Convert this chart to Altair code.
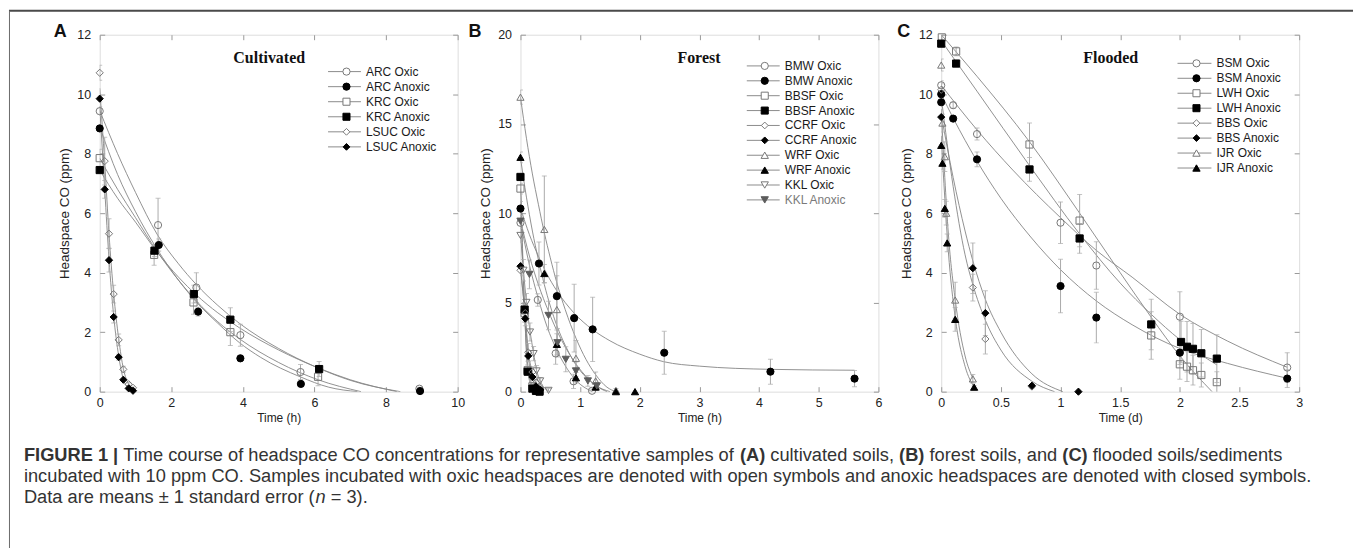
import altair as alt
import pandas as pd

FONT = "Liberation Sans"
SERIF = "Liberation Serif"

# ================= Panel A : Cultivated (time, h) =================
A_ARC_OX_T = [0, 1.63, 2.70, 3.93, 5.61, 8.93]
A_ARC_OX_Y = [9.43, 5.60, 3.50, 1.90, 0.66, 0.10]
A_ARC_OX_SE = [0.15, 0.90, 0.50, 0.37, 0.25, 0.05]
A_ARC_OX_CT = [0, 0.5, 1, 1.6, 2.2, 2.7, 3.3, 3.9, 5, 6, 7, 8.4]
A_ARC_OX_CY = [9.45, 8.0, 6.7, 5.3, 4.3, 3.6, 2.9, 2.3, 1.45, 0.85, 0.38, 0.0]

A_ARC_AN_T = [0, 1.65, 2.75, 3.93, 5.62, 8.95]
A_ARC_AN_Y = [8.85, 4.93, 2.69, 1.12, 0.26, 0.02]
A_ARC_AN_SE = [0.1, 0.2, 0.15, 0.1, 0.08, 0.0]
A_ARC_AN_CT = [0, 0.5, 1, 1.6, 2.2, 2.75, 3.3, 3.9, 4.5, 5.6, 6.4, 7.2]
A_ARC_AN_CY = [8.9, 7.3, 6.05, 4.8, 3.75, 2.95, 2.3, 1.65, 1.15, 0.5, 0.15, 0.0]

A_KRC_OX_T = [0, 1.52, 2.62, 3.65, 6.10]
A_KRC_OX_Y = [7.85, 4.60, 3.00, 2.00, 0.50]
A_KRC_OX_SE = [0.3, 0.35, 0.4, 0.45, 0.3]
A_KRC_OX_CT = [0, 0.5, 1, 1.6, 2.2, 2.7, 3.3, 3.9, 5, 6.1, 7.3]
A_KRC_OX_CY = [7.85, 6.8, 5.85, 4.72, 3.75, 3.05, 2.35, 1.78, 0.98, 0.4, 0.0]

A_KRC_AN_T = [0, 1.53, 2.63, 3.65, 6.13]
A_KRC_AN_Y = [7.45, 4.74, 3.28, 2.42, 0.76]
A_KRC_AN_SE = [0.1, 0.2, 0.3, 0.4, 0.25]
A_KRC_AN_CT = [0, 0.5, 1, 1.6, 2.2, 2.7, 3.3, 3.9, 5, 6.1, 7, 8.3]
A_KRC_AN_CY = [7.45, 6.5, 5.7, 4.7, 3.85, 3.25, 2.65, 2.15, 1.4, 0.8, 0.4, 0.0]

A_LSUC_T = [0, 0.14, 0.26, 0.39, 0.53, 0.66, 0.81, 0.93]
A_LSUC_OX_Y = [10.72, 7.75, 5.31, 3.28, 1.74, 0.75, 0.25, 0.13]
A_LSUC_OX_SE = [0.25, 0.8, 0.5, 0.3, 0.2, 0.1, 0.05, 0.03]
A_LSUC_OX_CY = [10.2, 7.7, 5.3, 3.3, 1.78, 0.78, 0.25, 0.1]
A_LSUC_AN_Y = [9.85, 6.80, 4.42, 2.51, 1.16, 0.40, 0.11, 0.03]
A_LSUC_AN_SE = [0.1, 0.3, 0.4, 0.2, 0.1, 0.05, 0.03, 0.0]
A_LSUC_AN_CY = [9.6, 6.8, 4.45, 2.55, 1.2, 0.42, 0.1, 0.02]

# ================= Panel B : Forest (time, h) =================
B_BMW_OX_T = [0, 0.29, 0.59, 0.89, 1.20]
B_BMW_OX_Y = [9.46, 5.14, 2.14, 0.58, 0.05]
B_BMW_OX_SE = [0.3, 0.35, 0.6, 0.4, 0.1]
B_BMW_OX_CT = [0, 0.15, 0.3, 0.45, 0.6, 0.9, 1.2]
B_BMW_OX_CY = [9.5, 7.1, 5.2, 3.6, 2.4, 0.75, 0.0]

B_BMW_AN_T = [0, 0.31, 0.61, 0.90, 1.21, 2.41, 4.19, 5.60]
B_BMW_AN_Y = [10.26, 7.18, 5.35, 4.12, 3.49, 2.18, 1.12, 0.73]
B_BMW_AN_SE = [0.4, 1.2, 1.9, 1.9, 1.8, 1.2, 0.7, 0.45]
B_BMW_AN_CT = [0, 0.15, 0.3, 0.45, 0.6, 0.9, 1.2, 1.5, 2.0, 2.4, 3.0, 4.2, 5.6]
B_BMW_AN_CY = [10.3, 8.8, 7.6, 6.55, 5.7, 4.4, 3.5, 2.85, 2.1, 1.68, 1.43, 1.25, 1.2]

B_BBSF_T = [0, 0.07, 0.12, 0.20, 0.26, 0.32]
B_BBSF_OX_Y = [11.38, 4.40, 1.20, 0.30, 0.10, 0.05]
B_BBSF_OX_SE = [0.3, 0.5, 0.3, 0.1, 0.05, 0.03]
B_BBSF_OX_CY = [11.38, 4.4, 1.5, 0.35, 0.1, 0.0]
B_BBSF_AN_Y = [12.03, 4.60, 1.12, 0.17, 0.04, 0.0]
B_BBSF_AN_SE = [0.2, 0.4, 0.2, 0.05, 0.0, 0.0]
B_BBSF_AN_CY = [12.03, 4.6, 1.2, 0.2, 0.04, 0.0]

B_CCRF_T = [0, 0.08, 0.13, 0.20, 0.26, 0.33]
B_CCRF_OX_Y = [6.80, 4.40, 2.20, 1.10, 0.50, 0.20]
B_CCRF_OX_SE = [0.3, 0.5, 0.5, 0.3, 0.2, 0.1]
B_CCRF_OX_CY = [6.8, 4.3, 2.3, 1.1, 0.5, 0.2]
B_CCRF_AN_Y = [7.03, 4.09, 2.00, 0.82, 0.30, 0.10]
B_CCRF_AN_SE = [0.2, 0.4, 0.3, 0.2, 0.1, 0.05]
B_CCRF_AN_CY = [7.03, 4.09, 2.0, 0.85, 0.3, 0.1]

B_WRF_OX_T = [0, 0.40, 0.61, 0.93, 1.26, 1.60]
B_WRF_OX_Y = [16.50, 9.09, 4.60, 1.87, 0.60, 0.07]
B_WRF_OX_SE = [0.4, 3.0, 1.9, 1.0, 0.5, 0.1]
B_WRF_OX_CT = [0, 0.1, 0.2, 0.3, 0.4, 0.5, 0.61, 0.75, 0.93, 1.1, 1.26, 1.45, 1.6]
B_WRF_OX_CY = [16.5, 14.2, 12.2, 10.5, 8.9, 7.5, 6.1, 4.6, 3.0, 1.8, 0.95, 0.25, 0.0]

B_WRF_AN_T = [0, 0.40, 0.61, 0.93, 1.26, 1.60, 1.92]
B_WRF_AN_Y = [13.13, 6.62, 2.65, 0.78, 0.26, 0.0, 0.0]
B_WRF_AN_SE = [0.3, 0.5, 0.6, 0.3, 0.2, 0.05, 0.0]
B_WRF_AN_CT = [0, 0.1, 0.2, 0.3, 0.4, 0.5, 0.61, 0.75, 0.93, 1.1, 1.26, 1.5]
B_WRF_AN_CY = [13.1, 10.9, 9.0, 7.4, 6.0, 4.8, 3.7, 2.6, 1.5, 0.8, 0.35, 0.0]

B_KKL_OX_T = [0, 0.05, 0.10, 0.16, 0.22, 0.27, 0.33, 0.47]
B_KKL_OX_Y = [8.75, 6.80, 5.00, 3.34, 2.13, 1.16, 0.60, 0.07]
B_KKL_OX_SE = [0.4, 0.6, 0.5, 0.5, 0.4, 0.3, 0.2, 0.1]
B_KKL_OX_CY = [8.75, 6.8, 5.0, 3.4, 2.15, 1.2, 0.6, 0.05]

B_KKL_AN_T = [0, 0.15, 0.47, 0.62, 0.76, 0.93, 1.13, 1.28]
B_KKL_AN_Y = [9.55, 6.57, 4.27, 2.74, 1.81, 1.16, 0.60, 0.32]
B_KKL_AN_SE = [0.3, 0.8, 0.8, 0.8, 0.7, 0.5, 0.3, 0.2]
B_KKL_AN_CT = [0, 0.15, 0.3, 0.47, 0.62, 0.76, 0.93, 1.13, 1.28, 1.45]
B_KKL_AN_CY = [9.6, 7.6, 6.0, 4.5, 3.35, 2.45, 1.55, 0.75, 0.3, 0.0]

# ================= Panel C : Flooded (time, d) =================
C_BSM_OX_T = [0, 0.10, 0.30, 1.00, 1.30, 2.00, 2.90]
C_BSM_OX_Y = [10.30, 9.63, 8.66, 5.68, 4.24, 2.52, 0.81]
C_BSM_OX_SE = [0.15, 0.1, 0.2, 0.7, 0.8, 0.84, 0.5]
C_BSM_OX_CT = [0, 0.3, 0.6, 1.0, 1.3, 1.6, 2.0, 2.4, 2.9]
C_BSM_OX_CY = [10.3, 8.8, 7.45, 5.85, 4.75, 3.85, 2.6, 1.7, 0.82]

C_BSM_AN_T = [0, 0, 0.10, 0.30, 1.00, 1.30, 2.00, 2.90]
C_BSM_AN_Y = [10.00, 9.73, 9.18, 7.81, 3.55, 2.49, 1.31, 0.44]
C_BSM_AN_SE = [0.1, 0.1, 0.1, 0.25, 0.9, 0.85, 0.4, 0.3]
C_BSM_AN_CT = [0, 0.1, 0.3, 0.5, 0.75, 1.0, 1.3, 1.6, 2.0, 2.4, 2.9]
C_BSM_AN_CY = [10.0, 9.2, 7.75, 6.5, 5.2, 4.1, 3.05, 2.25, 1.45, 0.95, 0.45]

C_LWH_OX_T = [0.005, 0.125, 0.74, 1.16, 1.76, 2.00, 2.06, 2.11, 2.18, 2.31]
C_LWH_OX_Y = [11.91, 11.44, 8.31, 5.75, 1.89, 0.92, 0.84, 0.72, 0.56, 0.32]
C_LWH_OX_SE = [0.1, 0.15, 0.72, 0.88, 0.8, 0.5, 0.5, 0.5, 0.4, 0.35]
C_LWH_OX_CT = [0, 0.3, 0.74, 1.16, 1.5, 1.76, 2.0, 2.27]
C_LWH_OX_CY = [12.0, 10.6, 8.4, 6.0, 4.0, 2.5, 1.2, 0.0]

C_LWH_AN_T = [0, 0.125, 0.74, 1.16, 1.76, 2.01, 2.06, 2.11, 2.18, 2.31]
C_LWH_AN_Y = [11.70, 11.03, 7.47, 5.15, 2.26, 1.67, 1.51, 1.44, 1.29, 1.11]
C_LWH_AN_SE = [0.1, 0.1, 0.4, 0.5, 0.85, 0.7, 0.85, 0.85, 0.8, 0.8]
C_LWH_AN_CT = [0, 0.3, 0.74, 1.16, 1.5, 1.76, 2.0, 2.31]
C_LWH_AN_CY = [11.8, 10.1, 7.6, 5.3, 3.65, 2.6, 1.75, 0.9]

C_BBS_OX_T = [0, 0.265, 0.37, 0.76]
C_BBS_OX_Y = [10.15, 3.50, 1.77, 0.17]
C_BBS_OX_SE = [0.2, 0.45, 0.5, 0.05]
C_BBS_OX_CT = [0, 0.1, 0.2, 0.265, 0.37, 0.5, 0.76, 0.95]
C_BBS_OX_CY = [9.9, 6.9, 4.6, 3.6, 2.4, 1.4, 0.35, 0.0]

C_BBS_AN_T = [0, 0.265, 0.37, 0.76, 1.15]
C_BBS_AN_Y = [9.23, 4.15, 2.64, 0.20, 0.0]
C_BBS_AN_SE = [0.1, 0.85, 0.75, 0.05, 0.0]
C_BBS_AN_CT = [0, 0.1, 0.2, 0.265, 0.37, 0.5, 0.76, 1.02]
C_BBS_AN_CY = [9.3, 7.2, 5.4, 4.4, 3.1, 2.0, 0.6, 0.0]

C_IJR_OX_T = [0, 0.01, 0.03, 0.042, 0.117, 0.265]
C_IJR_OX_Y = [10.98, 9.03, 7.90, 6.00, 3.08, 0.43]
C_IJR_OX_SE = [0.2, 0.3, 0.5, 0.4, 0.6, 0.15]
C_IJR_OX_CT = [0, 0.03, 0.06, 0.117, 0.2, 0.265]
C_IJR_OX_CY = [9.5, 7.2, 5.3, 3.1, 1.2, 0.45]

C_IJR_AN_T = [0, 0.01, 0.03, 0.05, 0.117, 0.276]
C_IJR_AN_Y = [8.28, 7.68, 6.16, 5.00, 2.43, 0.15]
C_IJR_AN_SE = [0.1, 0.2, 0.3, 0.3, 0.4, 0.05]
C_IJR_AN_CT = [0, 0.03, 0.06, 0.117, 0.2, 0.276]
C_IJR_AN_CY = [8.6, 6.5, 4.7, 2.5, 0.85, 0.15]

# (name, marker, kind, t, y, se, curve t, curve y)
PANEL_A = [
    ("ARC Oxic", "circle", "open", A_ARC_OX_T, A_ARC_OX_Y, A_ARC_OX_SE, A_ARC_OX_CT, A_ARC_OX_CY),
    ("ARC Anoxic", "circle", "filled", A_ARC_AN_T, A_ARC_AN_Y, A_ARC_AN_SE, A_ARC_AN_CT, A_ARC_AN_CY),
    ("KRC Oxic", "square", "open", A_KRC_OX_T, A_KRC_OX_Y, A_KRC_OX_SE, A_KRC_OX_CT, A_KRC_OX_CY),
    ("KRC Anoxic", "square", "filled", A_KRC_AN_T, A_KRC_AN_Y, A_KRC_AN_SE, A_KRC_AN_CT, A_KRC_AN_CY),
    ("LSUC Oxic", "diamond", "open", A_LSUC_T, A_LSUC_OX_Y, A_LSUC_OX_SE, A_LSUC_T, A_LSUC_OX_CY),
    ("LSUC Anoxic", "diamond", "filled", A_LSUC_T, A_LSUC_AN_Y, A_LSUC_AN_SE, A_LSUC_T, A_LSUC_AN_CY),
]
PANEL_B = [
    ("BMW Oxic", "circle", "open", B_BMW_OX_T, B_BMW_OX_Y, B_BMW_OX_SE, B_BMW_OX_CT, B_BMW_OX_CY),
    ("BMW Anoxic", "circle", "filled", B_BMW_AN_T, B_BMW_AN_Y, B_BMW_AN_SE, B_BMW_AN_CT, B_BMW_AN_CY),
    ("BBSF Oxic", "square", "open", B_BBSF_T, B_BBSF_OX_Y, B_BBSF_OX_SE, B_BBSF_T, B_BBSF_OX_CY),
    ("BBSF Anoxic", "square", "filled", B_BBSF_T, B_BBSF_AN_Y, B_BBSF_AN_SE, B_BBSF_T, B_BBSF_AN_CY),
    ("CCRF Oxic", "diamond", "open", B_CCRF_T, B_CCRF_OX_Y, B_CCRF_OX_SE, B_CCRF_T, B_CCRF_OX_CY),
    ("CCRF Anoxic", "diamond", "filled", B_CCRF_T, B_CCRF_AN_Y, B_CCRF_AN_SE, B_CCRF_T, B_CCRF_AN_CY),
    ("WRF Oxic", "triangle-up", "open", B_WRF_OX_T, B_WRF_OX_Y, B_WRF_OX_SE, B_WRF_OX_CT, B_WRF_OX_CY),
    ("WRF Anoxic", "triangle-up", "filled", B_WRF_AN_T, B_WRF_AN_Y, B_WRF_AN_SE, B_WRF_AN_CT, B_WRF_AN_CY),
    ("KKL Oxic", "triangle-down", "open", B_KKL_OX_T, B_KKL_OX_Y, B_KKL_OX_SE, B_KKL_OX_T, B_KKL_OX_CY),
    ("KKL Anoxic", "triangle-down", "gray", B_KKL_AN_T, B_KKL_AN_Y, B_KKL_AN_SE, B_KKL_AN_CT, B_KKL_AN_CY),
]
PANEL_C = [
    ("BSM Oxic", "circle", "open", C_BSM_OX_T, C_BSM_OX_Y, C_BSM_OX_SE, C_BSM_OX_CT, C_BSM_OX_CY),
    ("BSM Anoxic", "circle", "filled", C_BSM_AN_T, C_BSM_AN_Y, C_BSM_AN_SE, C_BSM_AN_CT, C_BSM_AN_CY),
    ("LWH Oxic", "square", "open", C_LWH_OX_T, C_LWH_OX_Y, C_LWH_OX_SE, C_LWH_OX_CT, C_LWH_OX_CY),
    ("LWH Anoxic", "square", "filled", C_LWH_AN_T, C_LWH_AN_Y, C_LWH_AN_SE, C_LWH_AN_CT, C_LWH_AN_CY),
    ("BBS Oxic", "diamond", "open", C_BBS_OX_T, C_BBS_OX_Y, C_BBS_OX_SE, C_BBS_OX_CT, C_BBS_OX_CY),
    ("BBS Anoxic", "diamond", "filled", C_BBS_AN_T, C_BBS_AN_Y, C_BBS_AN_SE, C_BBS_AN_CT, C_BBS_AN_CY),
    ("IJR Oxic", "triangle-up", "open", C_IJR_OX_T, C_IJR_OX_Y, C_IJR_OX_SE, C_IJR_OX_CT, C_IJR_OX_CY),
    ("IJR Anoxic", "triangle-up", "filled", C_IJR_AN_T, C_IJR_AN_Y, C_IJR_AN_SE, C_IJR_AN_CT, C_IJR_AN_CY),
]

A_X_TICKS = [0, 2, 4, 6, 8, 10]
A_Y_TICKS = [0, 2, 4, 6, 8, 10, 12]
B_X_TICKS = [0, 1, 2, 3, 4, 5, 6]
B_Y_TICKS = [0, 5, 10, 15, 20]
C_X_TICKS = [0, 0.5, 1, 1.5, 2, 2.5, 3]
C_Y_TICKS = [0, 2, 4, 6, 8, 10, 12]

CAPTION = [
    [("FIGURE 1 | ", "b"), ("Time course of headspace CO concentrations for representative samples of ", "n"),
     ("(A)", "b"), (" cultivated soils, ", "n"), ("(B)", "b"), (" forest soils, and ", "n"), ("(C)", "b"),
     (" flooded soils/sediments", "n")],
    [("incubated with 10 ppm CO. Samples incubated with oxic headspaces are denoted with open symbols and "
      "anoxic headspaces are denoted with closed symbols.", "n")],
    [("Data are means \u00b1 1 standard error (", "n"), ("n", "i"), (" = 3).", "n")],
]

# ---------------- styling ----------------
FILL = {"open": "transparent", "filled": "#000000", "gray": "#5c5c5c"}
LEG_FILL = {"open": "#ffffff", "filled": "#000000", "gray": "#5c5c5c"}
STROKE = {"open": "#777777", "filled": "#000000", "gray": "#5c5c5c"}
TXT = {"open": "#1a1a1a", "filled": "#1a1a1a", "gray": "#7a7a7a"}
SIZE = {"circle": 52, "square": 50, "diamond": 46, "triangle-up": 54, "triangle-down": 54}
LINE_C = "#858585"
ERR_C = "#ababab"
TICK_C = "#9a9a9a"
LAB_C = "#222222"
ONE = alt.InlineData(values=[{"k": 0}])

# Arial/Liberation Sans advance widths (1/1000 em) for caption layout
_W = dict(zip("ABCDEFGHIJKLMNOPQRSTUVWXYZ",
              [667, 667, 722, 722, 667, 611, 778, 722, 278, 500, 667, 556, 833, 722, 778, 667, 778, 722, 667, 611,
               722, 667, 944, 667, 667, 611]))
_W.update(zip("abcdefghijklmnopqrstuvwxyz",
              [556, 556, 500, 556, 556, 278, 556, 556, 222, 222, 500, 222, 833, 556, 556, 556, 556, 333, 500, 278,
               556, 500, 722, 500, 500, 500]))
_W.update({c: 556 for c in "0123456789"})
_W.update({" ": 278, "(": 333, ")": 333, ",": 278, ".": 278, "/": 278, "|": 260, "=": 584, "\u00b1": 584, "-": 333})
_WB = dict(_W)
_WB.update({"A": 722, "B": 722, "C": 722, "|": 280, "R": 722, "U": 722, "G": 778, "I": 278, "F": 611, "E": 667})
CAP_SIZE = 18.3


def text_w(s, style):
    tab = _WB if style == "b" else _W
    return sum(tab.get(c, 556) for c in s) * CAP_SIZE / 1000.0


def vtext(x, y, s, size=12, weight="normal", style="normal", font=FONT, color=LAB_C, align="left",
          baseline="middle"):
    return alt.Chart(ONE).mark_text(align=align, baseline=baseline, font=font, fontSize=size,
                                    fontWeight=weight, fontStyle=style, color=color).encode(
        x=alt.value(x), y=alt.value(y), text=alt.value(s))


def panel(series, xdom, xticks, ydom, yticks, xtitle, title_txt, title_cx, letter, letter_x,
          leg, extra=None):
    names = [s[0] for s in series]
    pts, cur, err = [], [], []
    for name, shape, kind, t, y, se, ct, cy in series:
        for a, b, s in zip(t, y, se):
            pts.append({"series": name, "t": a, "y": b})
            if s > 0:
                err.append({"series": name, "t": a, "lo": b - s, "hi": b + s})
        for a, b in zip(ct, cy):
            cur.append({"series": name, "t": a, "y": b})
    dp, dc, de = pd.DataFrame(pts), pd.DataFrame(cur), pd.DataFrame(err)

    xs = alt.Scale(domain=xdom, nice=False, zero=False)
    ys = alt.Scale(domain=ydom, nice=False, zero=False)
    common = dict(offset=-5, tickSize=5, tickColor=TICK_C, tickWidth=1, domain=False, grid=False)
    ax_b = alt.Axis(orient="bottom", values=xticks, labelPadding=5, labelFont=FONT, labelFontSize=12.5,
                    labelColor=LAB_C, format=".4~g", labelFlush=False, labelOverlap=False, title=xtitle,
                    titleFont=FONT, titleFontSize=12, titleFontWeight="normal", titleColor=LAB_C,
                    titlePadding=3, **common)
    ax_l = alt.Axis(orient="left", values=yticks, labelPadding=9, labelFont=FONT, labelFontSize=12.5,
                    labelColor=LAB_C, format=".4~g", labelFlush=False, labelOverlap=False,
                    title="Headspace CO (ppm)", titleFont=FONT, titleFontSize=13.5, titleFontWeight="normal",
                    titleColor=LAB_C, titlePadding=5, **common)
    ax_t = alt.Axis(orient="top", values=xticks, labels=False, title="", **common)
    ax_r = alt.Axis(orient="right", values=yticks, labels=False, title="", **common)

    curves = alt.Chart(dc).mark_line(color=LINE_C, strokeWidth=0.9, interpolate="monotone", clip=True).encode(
        x=alt.X("t:Q", scale=xs, axis=None), y=alt.Y("y:Q", scale=ys, axis=None), detail="series:N")
    bars = alt.Chart(de).mark_rule(color=ERR_C, strokeWidth=1, clip=True).encode(
        x=alt.X("t:Q", scale=xs, axis=None), y=alt.Y("lo:Q", scale=ys, axis=None), y2="hi:Q")
    caps = alt.Chart(de).transform_fold(["lo", "hi"], as_=["k", "v"]).mark_tick(
        orient="horizontal", size=5, thickness=1, color=ERR_C, clip=True).encode(
        x=alt.X("t:Q", scale=xs, axis=None), y=alt.Y("v:Q", scale=ys, axis=None))
    points = alt.Chart(dp).mark_point(opacity=1, strokeWidth=1).encode(
        x=alt.X("t:Q", scale=xs, axis=ax_b),
        y=alt.Y("y:Q", scale=ys, axis=ax_l),
        shape=alt.Shape("series:N", scale=alt.Scale(domain=names, range=[s[1] for s in series]), legend=None),
        fill=alt.Fill("series:N", scale=alt.Scale(domain=names, range=[FILL[s[2]] for s in series]), legend=None),
        stroke=alt.Stroke("series:N", scale=alt.Scale(domain=names, range=[STROKE[s[2]] for s in series]),
                          legend=None),
        size=alt.Size("series:N", scale=alt.Scale(domain=names, range=[SIZE[s[1]] for s in series]),
                      legend=None),
    )
    frame = alt.Chart(dp).mark_point(opacity=0).encode(
        x=alt.X("t:Q", scale=xs, axis=ax_t), y=alt.Y("y:Q", scale=ys, axis=ax_r))

    layers = [curves, bars, caps, points, frame]

    # legend drawn inside the plot
    x1, x2, xm, xt, y0, step = leg
    for i, (name, shape, kind, *_r) in enumerate(series):
        yy = y0 + step * i
        layers.append(alt.Chart(ONE).mark_rule(color="#8c8c8c", strokeWidth=1).encode(
            x=alt.value(x1), x2=alt.value(x2), y=alt.value(yy)))
        layers.append(alt.Chart(ONE).mark_point(shape=shape, size=SIZE[shape], filled=True, fill=LEG_FILL[kind],
                                                stroke=STROKE[kind], strokeWidth=1, opacity=1).encode(
            x=alt.value(xm), y=alt.value(yy)))
        layers.append(vtext(xt, yy, name, size=12, color=TXT[kind]))

    layers.append(vtext(title_cx, 23, title_txt, size=16, weight="bold", font=SERIF, color="#111111",
                        align="center"))
    layers.append(vtext(letter_x, 2, letter, size=18, weight="bold", color="#111111", baseline="alphabetic"))
    if extra:
        layers.extend(extra)
    return alt.layer(*layers).resolve_axis(x="independent", y="independent").properties(width=359, height=358)


# figure frame lines and caption (positioned relative to panel A's plot origin)
extra_a = [
    alt.Chart(ONE).mark_rule(color="#4a4a4a", strokeWidth=2).encode(
        x=alt.value(-91), x2=alt.value(1257), y=alt.value(-24)),
    alt.Chart(ONE).mark_rule(color="#6a6a6a", strokeWidth=1).encode(
        x=alt.value(-90.5), y=alt.value(-24), y2=alt.value(516)),
]
CAP_X0 = -76
CAP_Y = [423, 444, 465]
for line, cy in zip(CAPTION, CAP_Y):
    cx = CAP_X0
    for seg, st in line:
        lead = len(seg) - len(seg.lstrip(" "))
        sx = cx + text_w(" " * lead, st)
        extra_a.append(vtext(sx, cy, seg.strip(), size=CAP_SIZE,
                             weight="bold" if st == "b" else "normal",
                             style="italic" if st == "i" else "normal", color="#333333"))
        cx += text_w(seg, st)

pa = panel(PANEL_A, [0, 10], A_X_TICKS, [0, 12], A_Y_TICKS, "Time (h)", "Cultivated", 170, "A", -46,
           (229, 262, 247.5, 267, 37, 15.1), extra_a)
pb = panel(PANEL_B, [0, 6], B_X_TICKS, [0, 20], B_Y_TICKS, "Time (h)", "Forest", 179, "B", -52,
           (227, 260, 245, 265, 31.3, 14.93))
pc = panel(PANEL_C, [0, 3], C_X_TICKS, [0, 12], C_Y_TICKS, "Time (d)", "Flooded", 170, "C", -44,
           (237, 271, 256, 276, 28.7, 15.0))

RES = dict(x="independent", y="independent", shape="independent", fill="independent",
           stroke="independent", size="independent")
chart = alt.hconcat(pa, pb, pc, spacing=63, bounds="flush").resolve_scale(**RES).properties(
    padding={"left": 7, "top": 8, "right": 0, "bottom": 0}
).configure_view(stroke="#b8b8b8", strokeWidth=1.3).configure(background="white")

chart.save("out.html", embed_options={"renderer": "svg", "actions": False})
